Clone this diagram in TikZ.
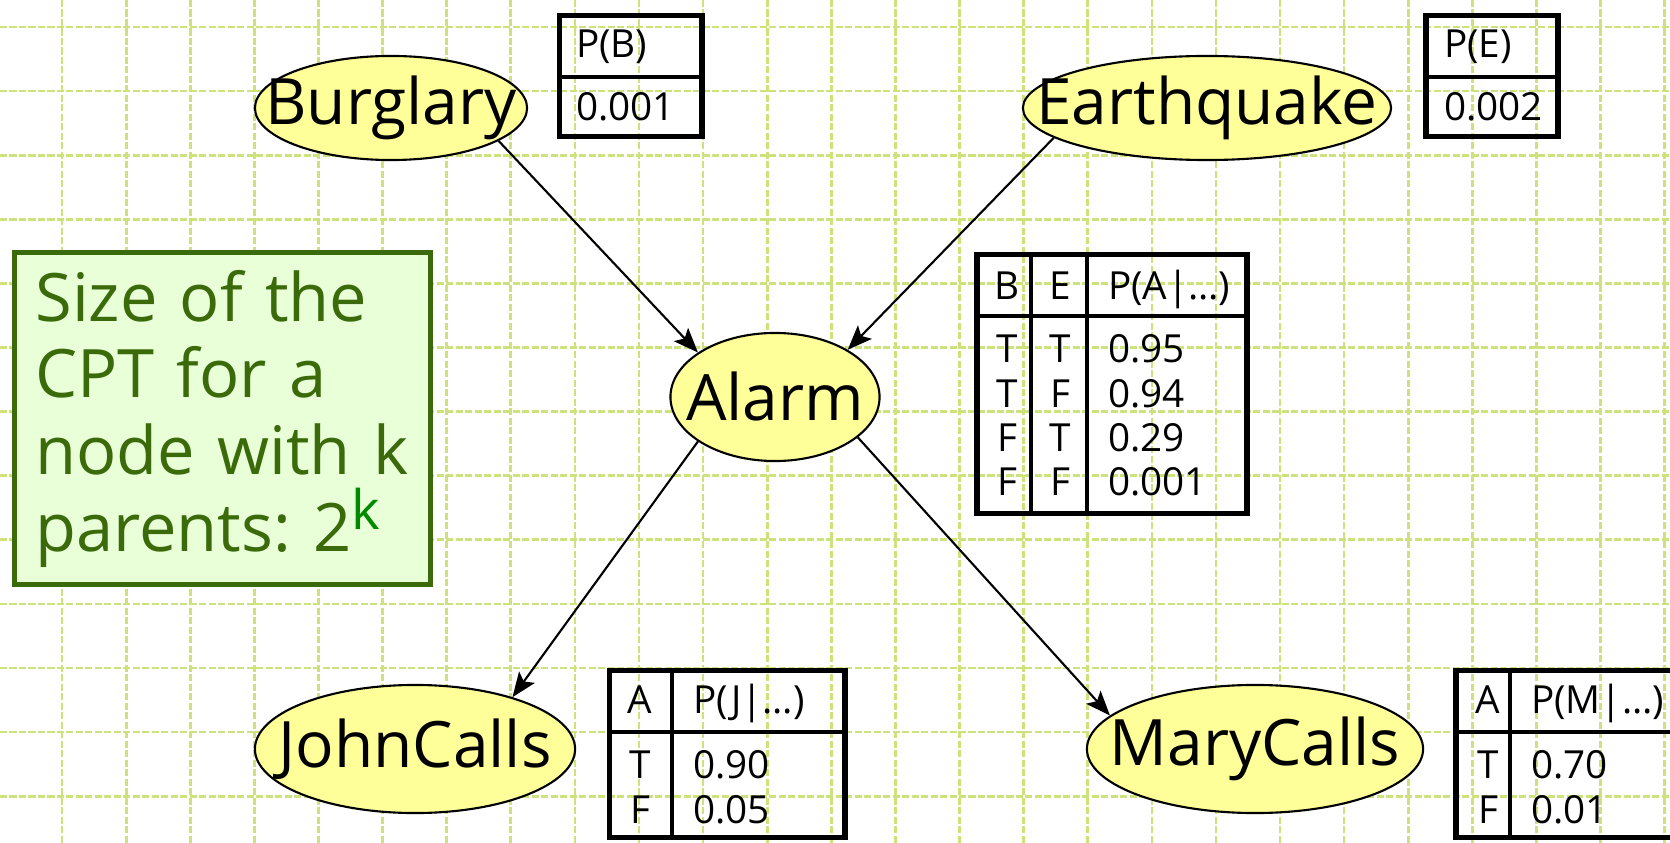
\documentclass[tikz,border=0pt]{standalone}
\usepackage{fontspec}
\setmainfont{Open Sans}
\frenchspacing
\usetikzlibrary{arrows.meta, shapes.geometric}
\definecolor{gridgreen}{HTML}{CDE27A}
\definecolor{nodeyellow}{HTML}{FFFF99}
\definecolor{notegreen}{HTML}{3B6A0A}
\definecolor{notefill}{HTML}{E8FFD8}
\definecolor{kgreen}{HTML}{008A00}
\newcommand{\varfont}{\fontsize{18.2}{22}\selectfont}
\tikzset{
  every picture/.style={line width=0.6pt},
  var/.style={ellipse, draw=black, fill=nodeyellow, inner sep=0pt, minimum height=1.28cm, label={[font=\varfont]center:#1}},
  edge/.style={-{Stealth[length=7pt, width=5.5pt, inset=1.5pt]}, draw=black, line width=0.6pt},
  cpt/.style={draw=black, line width=1.7pt},
  cptline/.style={draw=black, line width=0.9pt},
  cell/.style={inner sep=0pt, font=\fontsize{11}{13}\selectfont},
  gridline/.style={draw=gridgreen, line width=0.75pt, dash pattern=on 2pt off 0.7pt},
  note/.style={draw=notegreen, fill=notefill, line width=1.4pt, text=notegreen, align=left, inner xsep=0.21cm, inner ysep=0pt, font=\fontsize{19}{21.8}\selectfont},
}

\begin{document}
\begin{tikzpicture}[x=0.01cm, y=-0.01cm]
  \useasboundingbox (0,0) rectangle (1670,843);
  % squared paper
  \foreach \k in {0,...,26} \draw[gridline] ({-2+64.1*\k},0) -- ++(0,843);
  \foreach \k in {0,...,12} \draw[gridline] (0,{27+64.1*\k}) -- ++(1670,0);

  % the network
  \node[var=Burglary, minimum width=2.72cm, minimum height=1.04cm] (burglary) at (391,108) {};
  \node[var=Earthquake, minimum width=3.68cm, minimum height=1.04cm] (earthquake) at (1207,108) {};
  \node[var=Alarm, minimum width=2.09cm] (alarm) at (775,397) {};
  \node[var=JohnCalls, minimum width=3.20cm] (johncalls) at (415,749) {};
  \node[var=MaryCalls, minimum width=3.36cm] (marycalls) at (1255,749) {};

  \draw[edge] (burglary.-17) -- (alarm.150);
  \draw[edge] (earthquake.191) -- (alarm.33);
  \draw[edge] (alarm.210) -- (johncalls.28);
  \draw[edge] (alarm.-26) -- (marycalls.167);

  % priors
  \draw[cpt] (559.5,15.5) rectangle (701.5,136.5);
  \draw[cptline] (559.5,77) -- (701.5,77);
  \node[cell, anchor=base west] (pb) at (575,58) {P(B)};
  \node[cell, anchor=base west] (pbval) at (575,121) {0.001};

  \draw[cpt] (1425.5,15.5) rectangle (1557.5,136.5);
  \draw[cptline] (1425.5,77) -- (1557.5,77);
  \node[cell, anchor=base west] (pe) at (1443,58) {P(E)};
  \node[cell, anchor=base west] (peval) at (1443,121) {0.002};

  % alarm given burglary and earthquake
  \draw[cpt] (976.5,254.5) rectangle (1246.5,513.5);
  \draw[cptline] (976.5,316) -- (1246.5,316);
  \draw[cptline] (1031,254.5) -- (1031,513.5);
  \draw[cptline] (1087,254.5) -- (1087,513.5);
  \node[cell, anchor=base] (ab) at (1007,300) {B};
  \node[cell, anchor=base] (ae) at (1060,300) {E};
  \node[cell, anchor=base west] (ap) at (1107,300) {P(A|…)};
  \foreach \b/\e/\p [count=\i] in {T/T/0.95, T/F/0.94, F/T/0.29, F/F/0.001} {
    \node[cell, anchor=base] (ab\i) at (1007,{318.7+44.3*\i}) {\b};
    \node[cell, anchor=base] (ae\i) at (1060,{318.7+44.3*\i}) {\e};
    \node[cell, anchor=base west] (ap\i) at (1107,{318.7+44.3*\i}) {\p};
  }

  % john and mary given alarm
  \draw[cpt] (609.5,670.5) rectangle (844.5,837.5);
  \draw[cptline] (609.5,732) -- (844.5,732);
  \draw[cptline] (672,670.5) -- (672,837.5);
  \node[cell, anchor=base] (ja) at (640,713) {A};
  \node[cell, anchor=base west] (jp) at (692,713) {P(J|…)};

  \draw[cpt] (1455.5,670.5) rectangle (1700,837.5);
  \draw[cptline] (1455.5,732) -- (1700,732);
  \draw[cptline] (1510,670.5) -- (1510,837.5);
  \node[cell, anchor=base] (ma) at (1488,713) {A};
  \node[cell, anchor=base west] (mp) at (1530,713) {P(M|…)};

  \foreach \a/\j/\m [count=\i] in {T/0.90/0.70, F/0.05/0.01} {
    \node[cell, anchor=base] (ja\i) at (640,{733+45*\i}) {\a};
    \node[cell, anchor=base west] (jp\i) at (692,{733+45*\i}) {\j};
    \node[cell, anchor=base] (ma\i) at (1488,{733+45*\i}) {\a};
    \node[cell, anchor=base west] (mp\i) at (1530,{733+45*\i}) {\m};
  }

  % remark on table size
  \node[note, text width=3.74cm, minimum height=3.32cm] (remark) at (222.5,418.5)
    {Size of the\\CPT for a\\node with k\\parents: 2\raisebox{6pt}{\fontsize{15.5}{16}\selectfont\textcolor{kgreen}{k}}};
\end{tikzpicture}
\end{document}
